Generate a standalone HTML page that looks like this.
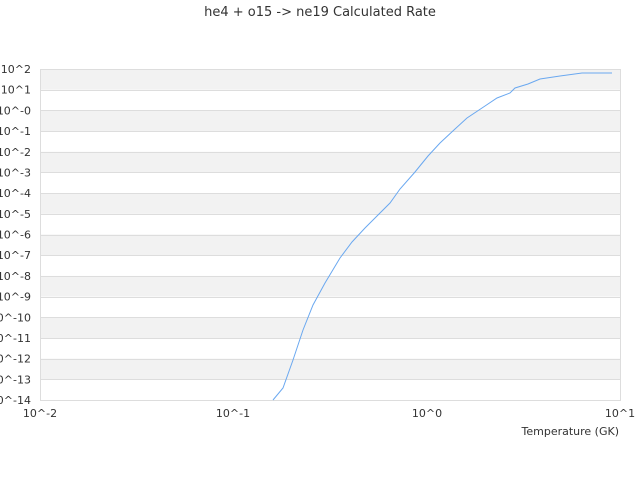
<!DOCTYPE html>
<html><head><style>
body{margin:0;background:#fff;}
svg text{font-family:"DejaVu Sans","Liberation Sans",sans-serif;fill:#333;}
</style></head><body>
<svg width="640" height="480" xmlns="http://www.w3.org/2000/svg">
<text x="320" y="16" font-size="13" text-anchor="middle">he4 + o15 -&gt; ne19 Calculated Rate</text>
<g id="bands"></g>
<rect x="40.5" y="69.5" width="580" height="331" fill="none" stroke="#ddd"/>
<g font-size="11" text-anchor="end" id="yl"></g>
<g font-size="11" text-anchor="middle">
<text x="40" y="417">10^-2</text>
<text x="233" y="417">10^-1</text>
<text x="427" y="417">10^0</text>
<text x="620" y="417">10^1</text>
</g>
<text x="619" y="435" font-size="11" text-anchor="end">Temperature (GK)</text>
<polyline fill="none" stroke="#6aa8f0" stroke-width="1" points="273,400 283,388 293,360 303,330 313,305 325,283 340,258 352,242 365,228 375,218 390,203 400,189 415,172 428,156 440,143 455,129 467,118 485,106 497,98 510,93 515,88 528,84 540,79 560,76 582,73 612,73"/>
<script>
var b=document.getElementById('bands'),yl=document.getElementById('yl'),ns='http://www.w3.org/2000/svg',h=331/16;
for(var i=0;i<16;i++){var y=69+i*h;
if(i%2==0){var r=document.createElementNS(ns,'rect');r.setAttribute('x',40);r.setAttribute('y',y);r.setAttribute('width',580);r.setAttribute('height',h);r.setAttribute('fill','#f2f2f2');b.appendChild(r);}
var l=document.createElementNS(ns,'line');l.setAttribute('x1',40);l.setAttribute('x2',620);l.setAttribute('y1',Math.round(y)+.5);l.setAttribute('y2',Math.round(y)+.5);l.setAttribute('stroke','#ddd');b.appendChild(l);}
for(var i=0;i<=16;i++){var e=2-i;var t=document.createElementNS(ns,'text');t.setAttribute('x',31);t.setAttribute('y',69+i*h+4);t.textContent='10^'+(e==0?'-0':e);yl.appendChild(t);}
</script>
</svg>
</body></html>
